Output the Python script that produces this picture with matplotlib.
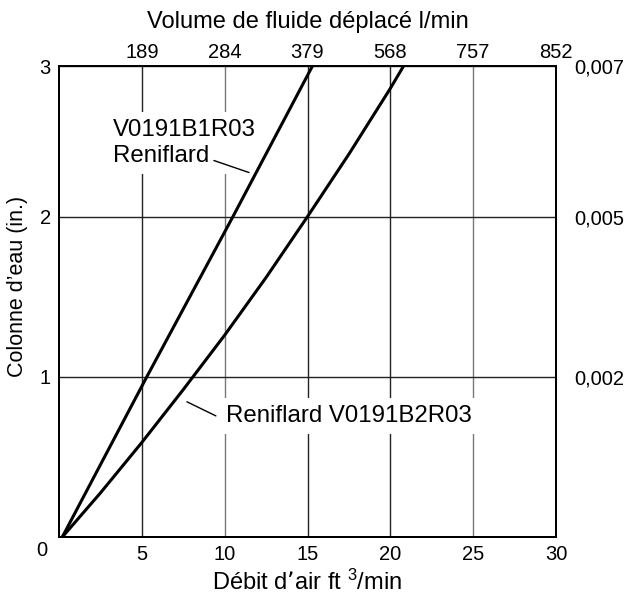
import matplotlib
matplotlib.use("Agg")
import matplotlib.pyplot as plt

plt.rcParams["font.family"] = ["Liberation Sans", "DejaVu Sans"]
plt.rcParams["mathtext.default"] = "regular"

# Débit d'air (ft3/min) vs colonne d'eau (in.)
b1_flow = [0.2, 2.75, 5.3, 7.9, 10.5, 12.9, 15.3]
b1_water = [0.0, 0.5, 1.0, 1.5, 2.0, 2.47, 2.94]

b2_flow = [0.2, 2.5, 5.0, 7.5, 10.0, 12.5, 15.0, 17.5, 20.0, 20.8]
b2_water = [0.0, 0.275, 0.59, 0.92, 1.26, 1.62, 2.0, 2.39, 2.80, 2.94]

x_ticks = [5, 10, 15, 20, 25, 30]
x_labels = ["5", "10", "15", "20", "25", "30"]
top_labels = ["189", "284", "379", "568", "757", "852"]
y_top = 2.94  # top edge of the frame = 3 in.
y_ticks = [1, 2, y_top]
y_labels = ["1", "2", "3"]
right_labels = ["0,002", "0,005", "0,007"]

W, H = 632, 597
fig = plt.figure(figsize=(W / 100, H / 100), dpi=100)
ax = fig.add_axes([59 / W, 1 - 537 / H, (556 - 59) / W, (537 - 66) / H])

ax.plot(b1_flow, b1_water, color="black", lw=2.2, solid_capstyle="butt", zorder=4)
ax.plot(b2_flow, b2_water, color="black", lw=2.2, solid_capstyle="butt", zorder=4)

ax.set_xlim(0, 30)
ax.set_ylim(0, y_top)
ax.set_xticks(x_ticks)
ax.set_xticklabels(x_labels)
ax.set_yticks(y_ticks)
ax.set_yticklabels(y_labels)
ax.tick_params(length=0, labelsize=14.5)
ax.tick_params(axis="x", pad=6)
ax.tick_params(axis="y", pad=6)
ax.grid(True, color="#222222", lw=1.0)
for gl, v in zip(ax.get_xgridlines(), x_ticks):
    if v in (10, 25):
        gl.set_color("#777777")
ax.set_axisbelow(True)
for sp in ax.spines.values():
    sp.set_linewidth(1.4)

ax.annotate("0", xy=(0, 0), xycoords="data", xytext=(-17, -14),
            textcoords="offset pixels", ha="center", va="center", fontsize=14.5)

ax.set_xlabel("Débit d’air ft $^{3}$/min", fontsize=17, labelpad=4)
ax.set_ylabel("Colonne d’eau (in.)", fontsize=15.5)
ax.yaxis.set_label_coords(-31 / (556 - 59), (537 - 286) / (537 - 66))

top = ax.twiny()
top.set_xlim(ax.get_xlim())
top.set_xticks(x_ticks)
top.set_xticklabels(top_labels)
top.tick_params(length=0, labelsize=14.5, pad=3)
top.set_xlabel("Volume de fluide déplacé l/min", fontsize=17, labelpad=11)

right = ax.twinx()
right.set_ylim(ax.get_ylim())
right.set_yticks(y_ticks)
right.set_yticklabels(right_labels)
right.tick_params(length=0, labelsize=14.5, pad=13)

for a in (top, right):
    for sp in a.spines.values():
        sp.set_linewidth(1.4)

box = dict(facecolor="white", edgecolor="none", pad=5)
ax.text(3.25, 2.46, "V0191B1R03\nReniflard", ha="left", va="center",
        fontsize=17.3, bbox=box, zorder=3)
ax.annotate("", xy=(11.47, 2.275), xytext=(9.35, 2.35),
            arrowprops=dict(arrowstyle="-", color="black", lw=1.0,
                            shrinkA=0, shrinkB=0))
ax.text(10.1, 0.756, "Reniflard V0191B2R03", ha="left", va="center",
        fontsize=17.3, bbox=box, zorder=3)
ax.annotate("", xy=(7.72, 0.844), xytext=(9.47, 0.756),
            arrowprops=dict(arrowstyle="-", color="black", lw=1.0,
                            shrinkA=0, shrinkB=0))

fig.savefig("out.png", dpi=100)
